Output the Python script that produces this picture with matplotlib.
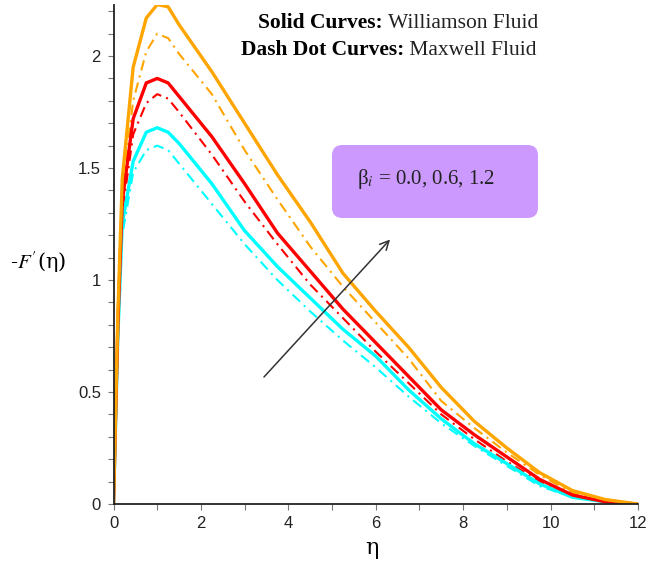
import matplotlib
matplotlib.use('Agg')
import matplotlib.pyplot as plt
from matplotlib.patches import FancyBboxPatch
from matplotlib.ticker import MultipleLocator

plt.rcParams['mathtext.fontset'] = 'stix'

eta = [0, 0.1, 0.2, 0.45, 0.75, 1.0, 1.25, 1.5, 2.25, 3.0, 3.75, 4.5, 5.25,
       6.0, 6.75, 7.5, 8.25, 9.0, 9.75, 10.5, 11.25, 12]

# Williamson fluid (solid)
w_b00 = [0, 0.75, 1.25, 1.53, 1.66, 1.68, 1.66, 1.61, 1.43, 1.22, 1.06, 0.92, 0.78,
         0.66, 0.51, 0.38, 0.27, 0.18, 0.09, 0.03, 0.01, 0]
w_b06 = [0, 0.80, 1.35, 1.72, 1.88, 1.90, 1.88, 1.82, 1.64, 1.43, 1.21, 1.04, 0.87,
         0.72, 0.57, 0.42, 0.31, 0.21, 0.11, 0.04, 0.01, 0]
w_b12 = [0, 0.85, 1.45, 1.95, 2.17, 2.23, 2.22, 2.14, 1.93, 1.70, 1.47, 1.26, 1.03,
         0.86, 0.70, 0.52, 0.37, 0.25, 0.14, 0.06, 0.02, 0]

# Maxwell fluid (dash dot)
m_b00 = [0, 0.72, 1.20, 1.48, 1.58, 1.60, 1.58, 1.52, 1.34, 1.16, 1.00, 0.86, 0.73,
         0.61, 0.48, 0.36, 0.26, 0.17, 0.08, 0.03, 0.01, 0]
m_b06 = [0, 0.78, 1.30, 1.65, 1.79, 1.83, 1.81, 1.75, 1.56, 1.35, 1.16, 0.98, 0.83,
         0.68, 0.54, 0.40, 0.29, 0.19, 0.10, 0.04, 0.01, 0]
m_b12 = [0, 0.80, 1.40, 1.80, 2.02, 2.10, 2.08, 2.01, 1.83, 1.58, 1.36, 1.15, 0.97,
         0.81, 0.65, 0.46, 0.34, 0.23, 0.13, 0.05, 0.02, 0]

colors = ['#00FFFF', '#FF0000', '#FFA500']

W, H = 649, 565
fig = plt.figure(figsize=(W / 100, H / 100), dpi=100)
ax = fig.add_axes([113.5 / W, 61 / H, (638 - 113.5) / W, (504 - 5) / H])

dashdot = (0, (5, 2.5, 1, 2.5))
for ys, c in zip([m_b00, m_b06, m_b12], colors):
    ax.plot(eta, ys, color=c, lw=1.5, ls=dashdot)
for ys, c in zip([w_b00, w_b06, w_b12], colors):
    ax.plot(eta, ys, color=c, lw=2.4)

ax.set_xlim(0, 12)
ax.set_ylim(0, 2.228)
for s in ['top', 'right']:
    ax.spines[s].set_visible(False)
for s in ['left', 'bottom']:
    ax.spines[s].set_color('#222222')
    ax.spines[s].set_linewidth(1.3)

ax.xaxis.set_major_locator(MultipleLocator(2))
ax.xaxis.set_minor_locator(MultipleLocator(1))
ax.yaxis.set_minor_locator(MultipleLocator(0.1))
ax.set_yticks([0, 0.5, 1, 1.5, 2])
ax.set_yticklabels(['0', '0.5', '1', '1.5', '2'])
ax.tick_params(which='both', direction='out', length=4, width=0.8, color='#777777',
               labelsize=12, labelcolor='#222222', pad=5)
for lab in ax.get_xticklabels() + ax.get_yticklabels():
    lab.set_family('Liberation Sans')

# axis labels
fig.text(372 / W, 1 - 548 / H, 'η', fontsize=16, ha='center', va='center',
         family='DejaVu Serif')
fig.text(38 / W, 1 - 262 / H, r"-$F^{\prime}$(η)", fontsize=15, ha='center', va='center',
         family='DejaVu Serif')

# header text: bold part, then regular part right after it
t1 = fig.text(258 / W, 1 - 33 / H, 'Solid Curves:', fontsize=15.5, fontweight='bold',
              family='Liberation Serif', va='bottom', ha='left')
t2 = fig.text(241 / W, 1 - 60 / H, 'Dash Dot Curves:', fontsize=15.5, fontweight='bold',
              family='Liberation Serif', va='bottom', ha='left')

fig.canvas.draw()
r = fig.canvas.get_renderer()
for t, s in [(t1, ' Williamson Fluid'), (t2, ' Maxwell Fluid')]:
    bb = t.get_window_extent(r).transformed(fig.transFigure.inverted())
    fig.text(bb.x1, t.get_position()[1], s, fontsize=15.5, family='Liberation Serif',
             va='bottom', ha='left', color='#222222')

# purple parameter box
box = FancyBboxPatch((332 / W, 1 - 218 / H), 206 / W, 73 / H,
                     boxstyle='round,pad=0,rounding_size=0.016',
                     mutation_aspect=W / H, transform=fig.transFigure,
                     fc='#CC99FF', ec='none')
fig.patches.append(box)
fig.text(357 / W, 1 - 179 / H, r'β$_{i}$ = 0.0, 0.6, 1.2', fontsize=15,
         family='Liberation Serif', va='center', ha='left', color='#222222')

# arrow
ax.annotate('', xy=(6.37, 1.19), xytext=(3.40, 0.558),
            arrowprops=dict(arrowstyle='->', color='#333333', lw=1.1,
                            mutation_scale=16))

fig.savefig('out.png', dpi=100)
